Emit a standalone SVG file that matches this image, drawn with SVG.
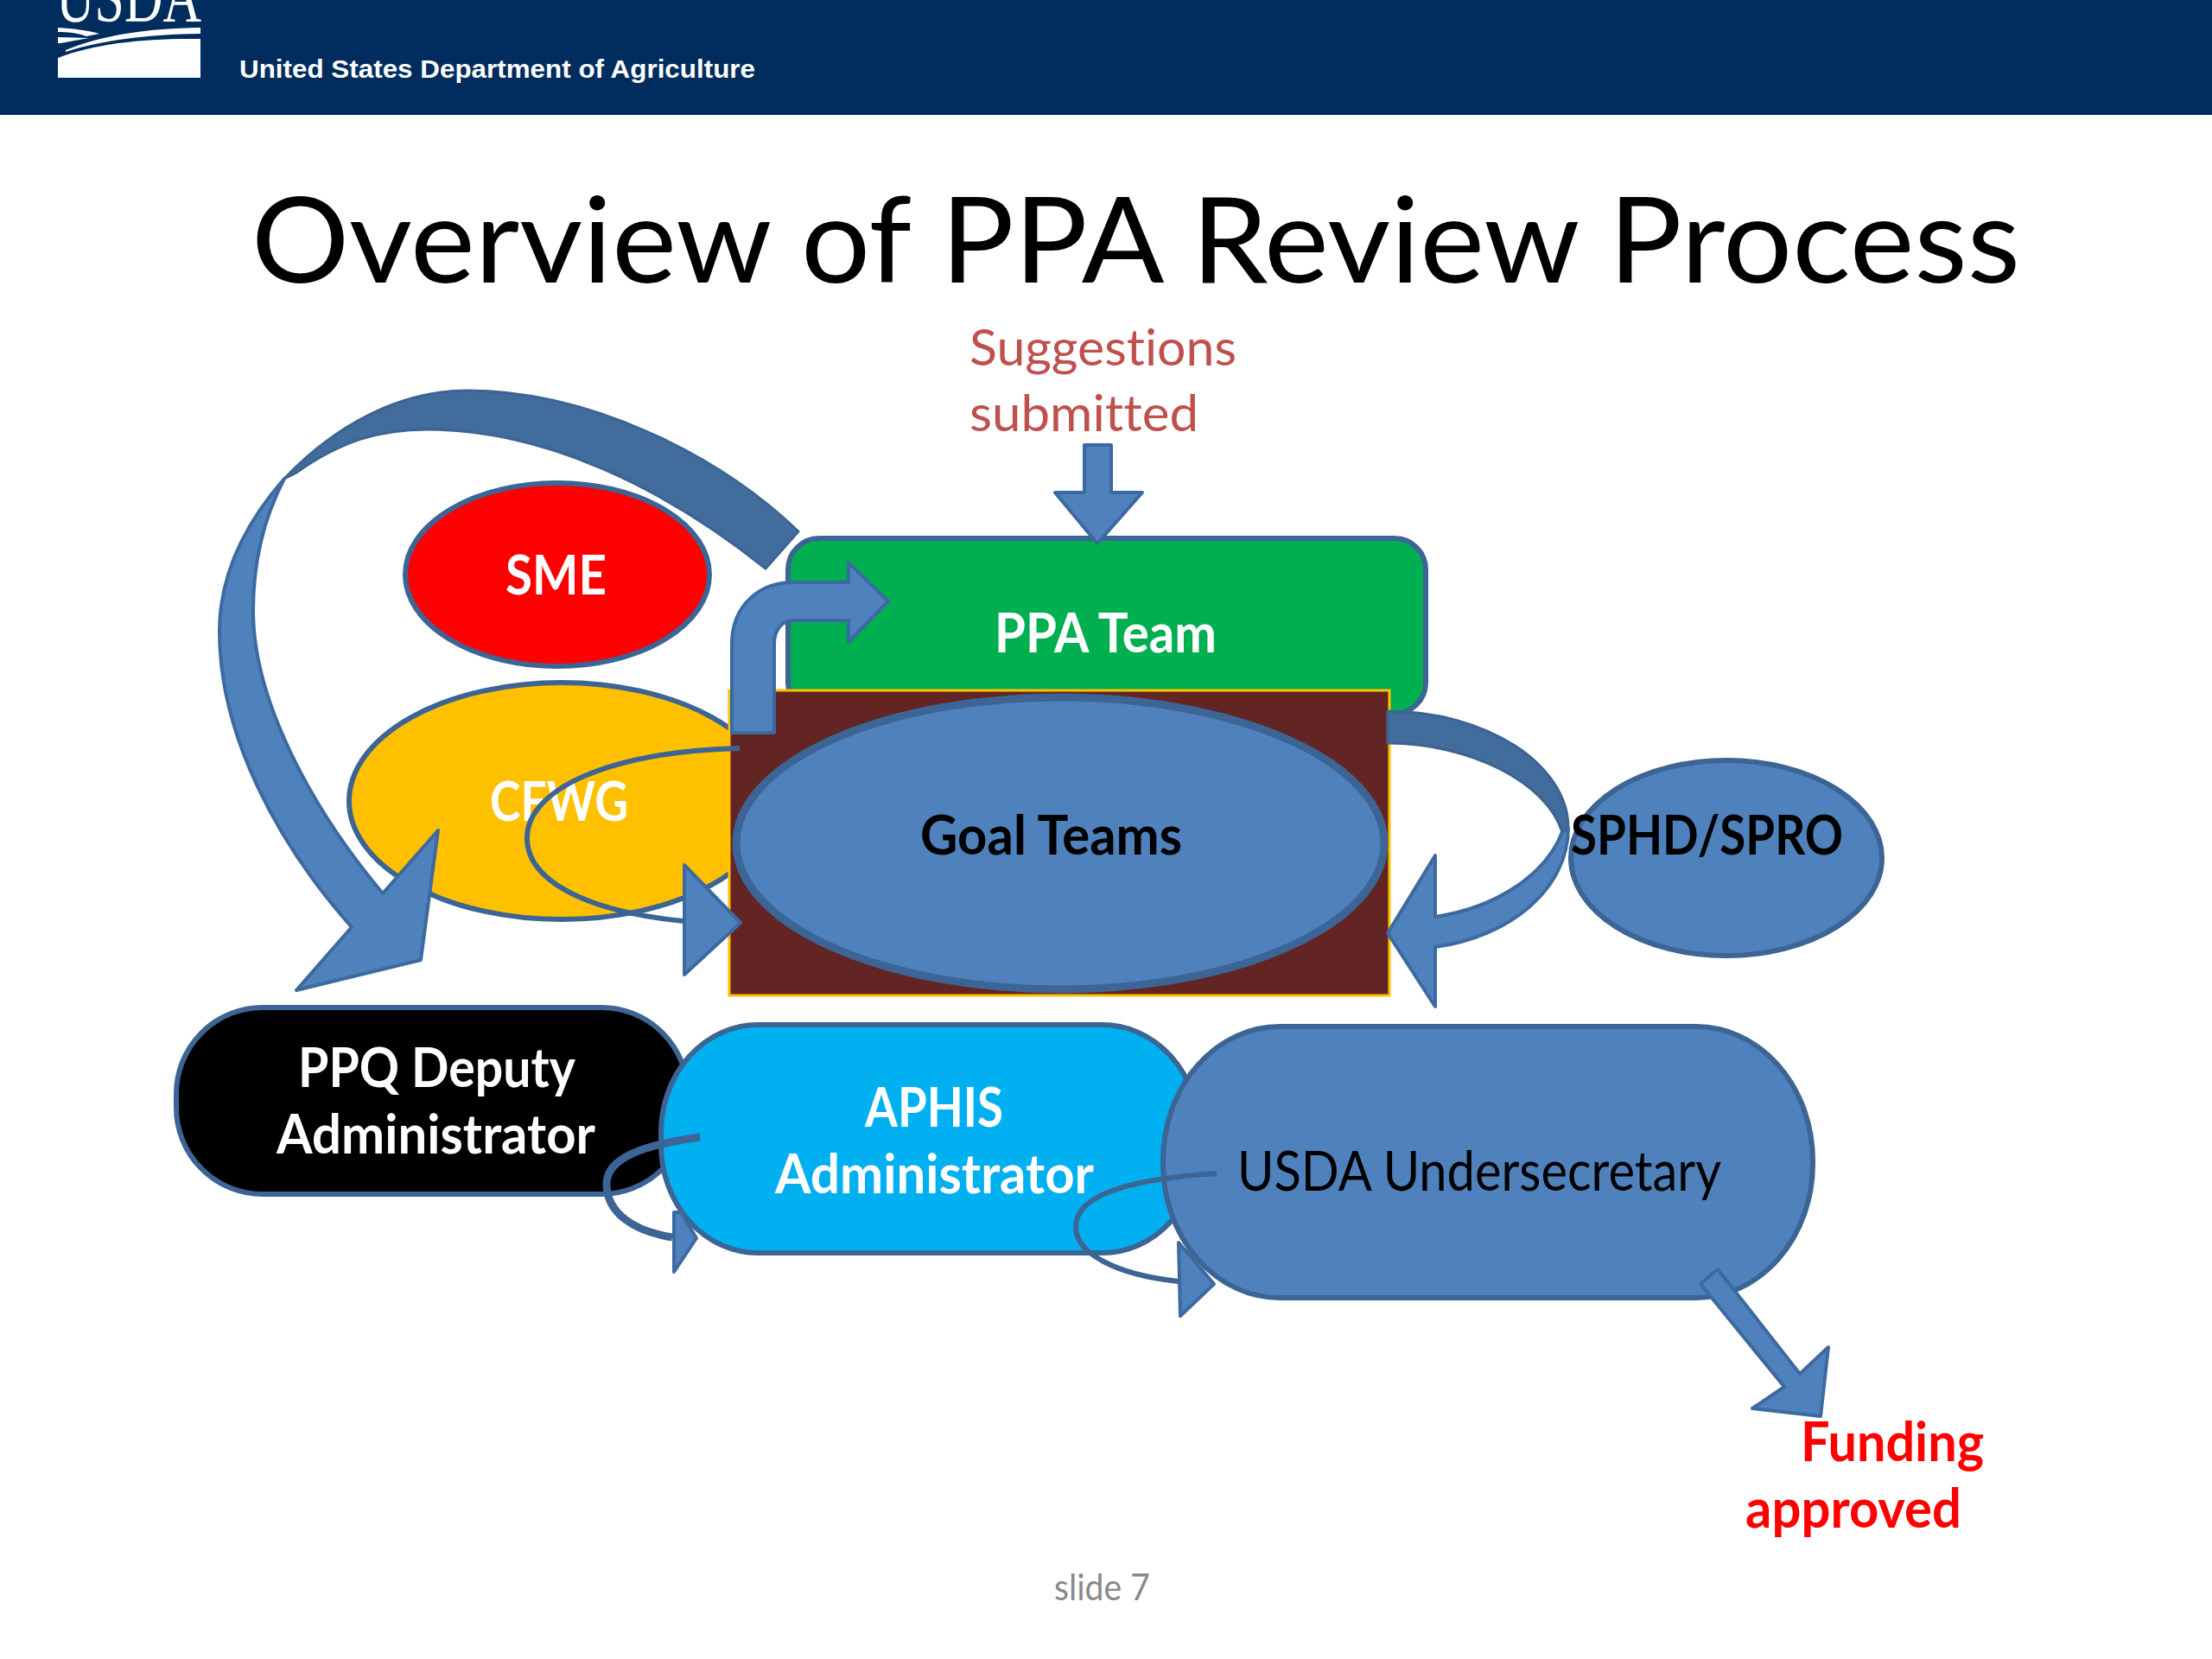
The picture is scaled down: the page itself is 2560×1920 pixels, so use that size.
<svg xmlns="http://www.w3.org/2000/svg" width="2560" height="1920" viewBox="0 0 2560 1920">
<style>
text{font-family:"Lato","Open Sans",sans-serif;font-variant-ligatures:none}
.b{font-weight:700;font-size:63px}
.w{fill:#fff}
.k{fill:#000}
.r{fill:#f00}
.n{stroke:#3c6494;stroke-width:6}
.a{fill:#4f81bd;stroke:#3c6aa0;stroke-width:4;stroke-linejoin:round}
.d{fill:#416c9b;stroke:#3c6494;stroke-width:3;stroke-linejoin:round}
.l{fill:none;stroke:#3c6494;stroke-width:6}
.s{fill:#c0504d;font-size:59px}
</style>
<rect width="2560" height="1920" fill="#fff"/>
<g id="header">
<rect width="2560" height="133" fill="#002d5d"/>
<text x="65" y="25" font-size="84" style="font-family:'Liberation Serif',serif" fill="#fff" textLength="168" lengthAdjust="spacingAndGlyphs">USDA</text>
<path d="M67 67C110 50 170 44 232 45V90H67Z" fill="#fff"/>
<path d="M76 58C120 40 170 33 232 32V39C170 40 120 46 76 60Z" fill="#fff"/>
<path d="M67 32C85 33 100 35 115 39L100 42C90 38 78 37 67 37ZM67 43L103 44L70 50H67Z" fill="#fff"/>
<text x="277" y="90" font-size="30" font-weight="700" fill="#fff" style="font-family:'Liberation Sans',sans-serif" textLength="597" lengthAdjust="spacingAndGlyphs">United States Department of Agriculture</text>
</g>
<text id="title" x="291" y="327" font-size="138" fill="#000" textLength="2047" lengthAdjust="spacingAndGlyphs">Overview of PPA Review Process</text>
<g id="suggestions"><text class="s" x="1122" y="423" textLength="309" lengthAdjust="spacingAndGlyphs">Suggestions</text><text class="s" x="1122" y="499" textLength="265" lengthAdjust="spacingAndGlyphs">submitted</text></g>
<g id="ppa-team"><rect class="n" x="912" y="623" width="738" height="203" rx="36" fill="#00b050"/><text class="b w" x="1151" y="755" textLength="257" lengthAdjust="spacingAndGlyphs">PPA Team</text></g>
<g id="sme"><ellipse class="n" cx="645" cy="665" rx="176" ry="106" fill="#f00"/><text class="b w" x="585" y="688" textLength="117" lengthAdjust="spacingAndGlyphs">SME</text></g>
<g id="cfwg"><ellipse class="n" cx="650" cy="927" rx="246" ry="137" fill="#ffc000"/><text class="b w" x="567" y="950" textLength="160" lengthAdjust="spacingAndGlyphs">CFWG</text></g>
<g id="goal-teams"><rect x="844" y="799" width="764" height="353" fill="#632523" stroke="#ffc000" stroke-width="3"/><ellipse cx="1227" cy="976" rx="375" ry="169" fill="#4f81bd" stroke="#3c6494" stroke-width="9"/><text class="b k" x="1065" y="989" textLength="303" lengthAdjust="spacingAndGlyphs">Goal Teams</text></g>
<g id="sphd-spro"><ellipse class="n" cx="1998" cy="993" rx="180" ry="113" fill="#4f81bd"/><text class="b k" x="1818" y="989" textLength="315" lengthAdjust="spacingAndGlyphs">SPHD/SPRO</text></g>
<g id="ppq-deputy"><rect class="n" x="204" y="1166" width="592" height="216" rx="100" ry="100" fill="#000"/><text class="b w" x="345" y="1258" textLength="321" lengthAdjust="spacingAndGlyphs">PPQ Deputy</text><text class="b w" x="320" y="1335" textLength="369" lengthAdjust="spacingAndGlyphs">Administrator</text></g>
<g id="aphis"><rect class="n" x="765" y="1186" width="623" height="264" rx="112" ry="125" fill="#00b0f0"/><text class="b w" x="1001" y="1304" textLength="160" lengthAdjust="spacingAndGlyphs">APHIS</text><text class="b w" x="897" y="1381" textLength="369" lengthAdjust="spacingAndGlyphs">Administrator</text></g>
<g id="usda-undersecretary"><rect class="n" x="1346" y="1188" width="752" height="314" rx="135" ry="155" fill="#4f81bd"/><text class="k" font-size="64" x="1432" y="1378" textLength="560" lengthAdjust="spacingAndGlyphs">USDA Undersecretary</text></g>
<g id="connectors">
<path class="a" d="M1255 515H1286V570H1322L1270 629L1221 570H1255Z"/>
<path class="d" d="M924 615C830 525 680 452 541 452C460 452 385 495 329 554L343 547C395 510 440 497 495 497C630 497 770 565 886 658Z"/>
<path class="a" d="M329 554C280 610 254 670 254 731C254 850 320 975 407 1073L343 1146L487 1111L507 961L443 1034C360 935 293 810 293 707C293 650 305 600 329 554Z"/>
<path class="d" d="M1606 823C1720 823 1815 885 1815 958L1808 963C1790 905 1700 860 1606 860Z"/>
<path class="a" d="M1815 958C1815 1030 1745 1085 1661 1096V1165L1606 1080L1661 990V1061C1735 1050 1790 1010 1808 963Z"/>
<path class="a" d="M847 848V745C847 700 880 674 917 674H982V651L1028 696L982 743V718H917C905 718 896 730 896 745V848Z"/>
<path class="l" d="M856 866C700 870 610 915 610 970C610 1020 680 1055 791 1066"/>
<path class="a" d="M792 1001L857 1068L792 1128Z"/>
<path class="l" style="stroke-width:9" d="M810 1316C745 1325 702 1340 702 1370C702 1405 735 1425 778 1432"/>
<path class="a" d="M780 1403L788 1403L806 1433L780 1472Z"/>
<path class="l" d="M1408 1358C1300 1365 1245 1385 1245 1420C1245 1450 1290 1475 1364 1483"/>
<path class="a" d="M1364 1438L1405 1486L1366 1523Z"/>
<path class="a" d="M1968 1486L1988 1469L2083 1590L2116 1559L2107 1639L2028 1630L2065 1605Z"/>
</g>
<g id="funding"><text class="b r" x="2084" y="1691" textLength="212" lengthAdjust="spacingAndGlyphs">Funding</text><text class="b r" x="2020" y="1768" textLength="250" lengthAdjust="spacingAndGlyphs">approved</text></g>
<text id="slide-number" x="1220" y="1852" font-size="42" fill="#898989" textLength="111" lengthAdjust="spacingAndGlyphs">slide 7</text>
</svg>
